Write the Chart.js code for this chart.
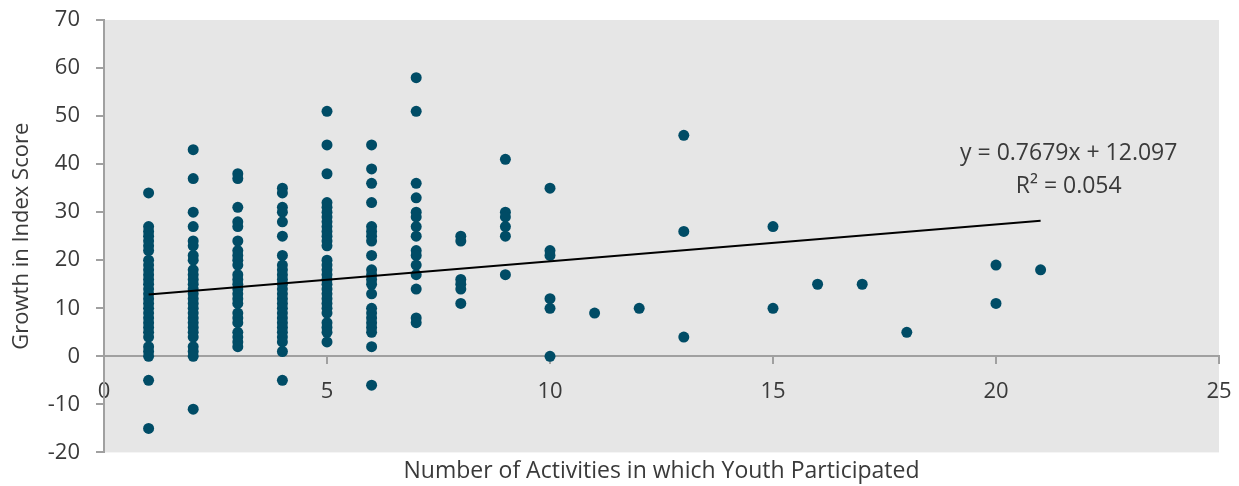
<!DOCTYPE html>
<html>
<head>
<meta charset="utf-8">
<script src="https://cdn.jsdelivr.net/npm/chart.js@4"></script>
<style>
  body { margin: 0; background: #fff; }
  #wrap { width: 1239px; height: 486px; }
</style>
</head>
<body>
<div id="wrap"><canvas id="scatterChart" width="1239" height="486"></canvas></div>
<script>
// number of activities (x) and the growth scores seen at each of them (y)
var activities = [1, 2, 3, 4, 5, 6, 7, 8, 9, 10, 11, 12, 13, 15, 16, 17, 18, 20, 21];
var scores = [
  [34, 27, 26, 25, 24, 23, 22, 20, 19, 18, 17, 16, 15, 14, 13, 12, 11, 10, 9, 8, 7, 6, 5, 4, 2, 1, 0, -5, -15],
  [43, 37, 30, 27, 24, 23, 21, 20, 18, 17, 16, 15, 14, 13, 12, 11, 10, 9, 8, 7, 6, 5, 4, 2, 1, 0, -11],
  [38, 37, 31, 28, 27, 24, 22, 21, 20, 19, 17, 16, 15, 14, 13, 12, 11, 9, 8, 7, 5, 4, 3, 2],
  [35, 34, 31, 30, 28, 25, 21, 19, 18, 17, 16, 15, 14, 13, 12, 11, 10, 9, 8, 7, 6, 5, 4, 3, 1, -5],
  [51, 44, 38, 32, 31, 30, 29, 28, 27, 26, 25, 24, 23, 20, 19, 18, 17, 16, 15, 14, 13, 12, 11, 10, 9, 7, 6, 5, 3],
  [44, 39, 36, 32, 27, 26, 25, 24, 21, 18, 17, 16, 15, 13, 10, 9, 8, 7, 6, 5, 2, -6],
  [58, 51, 36, 33, 30, 29, 27, 25, 22, 21, 19, 17, 14, 8, 7],
  [25, 24, 16, 15, 14, 11],
  [41, 30, 29, 27, 25, 17],
  [35, 22, 21, 12, 10, 0],
  [9],
  [10],
  [46, 26, 4],
  [27, 10],
  [15],
  [15],
  [5],
  [19, 11],
  [18]
];

// linear trendline (from the chart label)
var slope = 0.7679;
var intercept = 12.097;
var trendLabel = ['y = 0.7679x + 12.097', 'R² = 0.054'];

// ticks
var xTicks = [0, 5, 10, 15, 20, 25];
var yTicks = [-20, -10, 0, 10, 20, 30, 40, 50, 60, 70];

var points = [];
activities.forEach(function (a, i) {
  scores[i].forEach(function (s) { points.push({ x: a, y: s }); });
});
var xMin = Math.min.apply(null, activities);
var xMax = Math.max.apply(null, activities);
var trend = [
  { x: xMin, y: slope * xMin + intercept },
  { x: xMax, y: slope * xMax + intercept }
];

var FONT = "'Open Sans', 'DejaVu Sans', sans-serif";
var TEXT = '#3a3a3a';
var AXIS = '#a0a0a0';
var FS = 22;

// gray plot background + trendline label
var plotDeco = {
  id: 'plotDeco',
  beforeDraw: function (chart) {
    var a = chart.chartArea, c = chart.ctx;
    c.save();
    c.fillStyle = '#e6e6e6';
    c.fillRect(a.left, a.top, a.right - a.left, a.bottom - a.top);
    c.restore();
  },
  afterDatasetsDraw: function (chart) {
    var c = chart.ctx;
    var x = chart.scales.x.getPixelForValue(21.63);
    var y = chart.scales.y.getPixelForValue(42.2);
    c.save();
    c.font = '23px ' + FONT;
    c.fillStyle = TEXT;
    c.textAlign = 'center';
    c.textBaseline = 'middle';
    c.fillText(trendLabel[0], x, y);
    c.fillText(trendLabel[1], x, y + 33);
    c.restore();
  }
};

// keep label overflow from pushing the plot area in
function noPad(s) {
  s.paddingTop = 0; s.paddingBottom = 0; s.paddingLeft = 0; s.paddingRight = 0;
}

var ctx = document.getElementById('scatterChart');
var myChart = new Chart(ctx, {
  type: 'scatter',
  data: {
    datasets: [
      {
        type: 'line',
        data: trend,
        borderColor: '#000',
        borderWidth: 2,
        pointRadius: 0,
        fill: false,
        order: 0
      },
      {
        data: points,
        backgroundColor: '#004c66',
        borderWidth: 0,
        pointRadius: 5.5,
        pointHoverRadius: 5.5,
        order: 1
      }
    ]
  },
  options: {
    responsive: false,
    animation: false,
    layout: { padding: { left: 0, right: 20, top: 20, bottom: 0 } },
    plugins: {
      legend: { display: false },
      tooltip: { enabled: false }
    },
    scales: {
      x: {
        type: 'linear',
        position: { y: 0 },
        min: 0,
        max: 25,
        afterBuildTicks: function (s) { s.ticks = xTicks.map(function (v) { return { value: v }; }); },
        afterFit: noPad,
        grid: { drawOnChartArea: false, drawTicks: true, tickLength: 7, color: AXIS, lineWidth: 2 },
        border: { display: true, color: AXIS, width: 2 },
        ticks: { color: TEXT, padding: 15, maxRotation: 0, font: { family: FONT, size: FS } }
      },
      x2: {
        type: 'linear',
        position: 'bottom',
        min: 0,
        max: 25,
        afterFit: noPad,
        grid: { display: false, drawTicks: false },
        border: { display: false },
        ticks: { display: false },
        title: {
          display: true,
          text: 'Number of Activities in which Youth Participated',
          color: TEXT,
          padding: { top: 5, bottom: 1 },
          font: { family: FONT, size: 23 }
        }
      },
      y: {
        type: 'linear',
        position: 'left',
        min: -20,
        max: 70,
        afterBuildTicks: function (s) { s.ticks = yTicks.map(function (v) { return { value: v }; }); },
        afterFit: function (s) { s.width = 104; noPad(s); },
        grid: { drawOnChartArea: false, drawTicks: true, tickLength: 8, color: AXIS, lineWidth: 2 },
        border: { display: true, color: AXIS, width: 2 },
        ticks: { color: TEXT, padding: 16, font: { family: FONT, size: FS } },
        title: {
          display: true,
          text: 'Growth in Index Score',
          color: TEXT,
          padding: { top: 9, bottom: 0 },
          font: { family: FONT, size: FS }
        }
      }
    }
  },
  plugins: [plotDeco]
});
</script>
</body>
</html>
